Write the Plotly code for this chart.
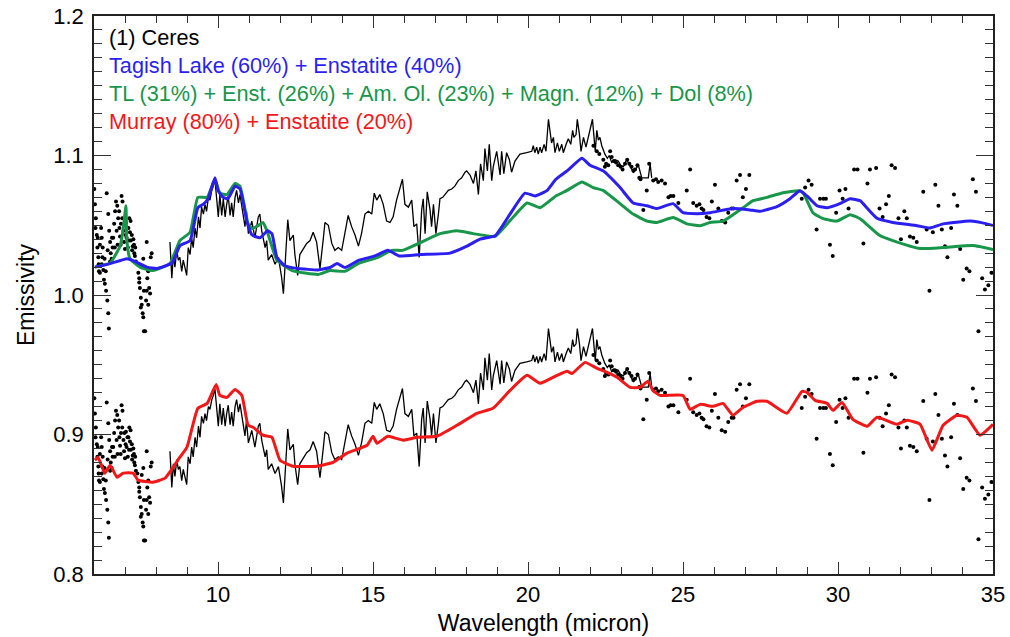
import plotly.graph_objects as go

# ---------------------------------------------------------------------------
# Ceres mid-IR emissivity spectrum (continuous part, 8.5-24 micron)
# ---------------------------------------------------------------------------
ceres_wl = [
    8.45, 8.51, 8.56, 8.61, 8.67, 8.72, 8.77, 8.83, 8.88, 8.94, 8.99, 9.04, 9.10,
    9.15, 9.20, 9.26, 9.31, 9.37, 9.42, 9.47, 9.53, 9.58, 9.63, 9.69, 9.74, 9.80,
    9.85, 9.90, 9.96, 10.01, 10.06, 10.12, 10.17, 10.23, 10.28, 10.33, 10.39, 10.44,
    10.49, 10.55, 10.60, 10.66, 10.71, 10.76, 10.82, 10.87, 10.92, 10.98,
    11.09, 11.19, 11.30, 11.35, 11.41, 11.52, 11.57, 11.62, 11.73, 11.84, 11.95,
    12.05, 12.11, 12.16, 12.25, 12.32, 12.43, 12.48, 12.57, 12.64, 12.75, 12.86,
    12.97, 13.07, 13.18, 13.29, 13.40, 13.45, 13.56, 13.67, 13.77, 13.88, 13.99,
    14.10, 14.20, 14.31, 14.42, 14.53, 14.63, 14.74, 14.85, 14.96, 15.04, 15.12,
    15.22, 15.33, 15.44, 15.55, 15.65, 15.76, 15.87, 15.95,
    16.03, 16.14, 16.25, 16.32, 16.41, 16.49, 16.57, 16.62, 16.68, 16.75, 16.84,
    16.89, 16.95, 17.03, 17.11, 17.16, 17.25, 17.32, 17.43, 17.54, 17.64, 17.75,
    17.86, 17.97, 18.02, 18.13, 18.24, 18.32, 18.40, 18.47, 18.56, 18.61, 18.69,
    18.75, 18.83, 18.88, 18.99, 19.10, 19.15, 19.22, 19.31, 19.40, 19.47, 19.58,
    19.74, 19.96, 20.12, 20.17, 20.22, 20.28, 20.33, 20.39, 20.44, 20.52, 20.58,
    20.66, 20.71,
    20.76, 20.82, 20.87, 20.95, 21.01, 21.09, 21.14, 21.23, 21.30, 21.38, 21.44,
    21.48, 21.55, 21.59, 21.66, 21.71, 21.79, 21.87, 21.95, 22.02, 22.08, 22.13,
    22.17, 22.22, 22.27, 22.32, 22.38, 22.48, 22.56, 22.62, 22.70, 22.81, 22.91,
    22.99, 23.08, 23.18, 23.29, 23.40, 23.56, 23.67, 23.77, 23.88, 23.94, 23.99,
]
ceres_em = [
    1.038, 1.012, 1.029, 1.020, 1.032, 1.025, 1.027, 1.017, 1.025, 1.020, 1.014, 1.034, 1.029,
    1.041, 1.034, 1.048, 1.041, 1.056, 1.048, 1.063, 1.058, 1.065, 1.060, 1.070, 1.068, 1.075,
    1.078, 1.083, 1.065, 1.056, 1.072, 1.057, 1.069, 1.056, 1.065, 1.071, 1.057, 1.066,
    1.056, 1.070, 1.075, 1.066, 1.072, 1.064, 1.056, 1.049, 1.060, 1.044,
    1.053, 1.041, 1.056, 1.058, 1.046, 1.034, 1.039, 1.025, 1.029, 1.022, 1.027,
    1.013, 1.001, 1.018, 1.054, 1.039, 1.043, 1.029, 1.014, 1.029, 1.033, 1.037,
    1.039, 1.045, 1.038, 1.019, 1.041, 1.052, 1.050, 1.037, 1.032, 1.034, 1.032,
    1.044, 1.057, 1.049, 1.043, 1.035, 1.044, 1.058, 1.060, 1.058, 1.073, 1.068,
    1.072, 1.065, 1.053, 1.052, 1.056, 1.068, 1.077, 1.083,
    1.065, 1.063, 1.068, 1.049, 1.051, 1.027, 1.061, 1.069, 1.044, 1.074, 1.061,
    1.049, 1.065, 1.044, 1.058, 1.069, 1.070, 1.072, 1.075, 1.076, 1.078, 1.082,
    1.084, 1.088, 1.089, 1.086, 1.080, 1.089, 1.072, 1.094, 1.082, 1.105, 1.089,
    1.108, 1.082, 1.092, 1.103, 1.086, 1.103, 1.087, 1.102, 1.097, 1.088, 1.096,
    1.101, 1.102, 1.103, 1.107, 1.102, 1.106, 1.101, 1.106, 1.102, 1.108, 1.103,
    1.126, 1.117,
    1.109, 1.113, 1.102, 1.109, 1.103, 1.108, 1.102, 1.108, 1.112, 1.108, 1.118,
    1.113, 1.115, 1.126, 1.115, 1.103, 1.113, 1.106, 1.114, 1.120, 1.126, 1.113,
    1.103, 1.118, 1.111, 1.113, 1.107, 1.101, 1.098, 1.100, 1.095, 1.097, 1.096,
    1.093, 1.092, 1.097, 1.093, 1.088, 1.093, 1.084, 1.084, 1.084, 1.094, 1.084,
]

# Ceres sparse / noisy samples (short- and long-wavelength ends)
ceres_pts_wl = [
    6.01, 6.03, 6.06, 6.09, 6.11, 6.14, 6.16, 6.19, 6.23, 6.25, 6.27, 6.30, 6.32, 6.35,
    6.39, 6.43, 6.46, 6.48, 6.41, 6.46, 6.49, 6.52, 6.54, 6.57, 6.60, 6.62, 6.65, 6.68,
    6.71, 6.75, 6.78, 6.82, 6.84, 6.86, 6.89, 6.91, 6.95, 6.97, 7.00, 7.03, 7.05, 7.09,
    7.11, 7.14, 7.16, 7.19, 7.23, 7.25, 7.27, 7.30, 7.32, 7.35,
    6.05, 6.12, 6.15, 6.19, 6.25, 6.28, 6.34, 6.38, 6.44, 6.52, 6.58, 6.67, 6.73, 6.76,
    6.81, 6.87, 6.92, 6.98, 7.02, 7.08, 7.13, 7.18, 7.22, 7.29, 7.33,
    7.40, 7.43, 7.46, 7.48, 7.51, 7.54, 7.57, 7.59, 7.61, 7.65, 7.68, 7.70, 7.72, 7.75,
    7.78, 7.81, 7.83, 7.86, 7.70, 7.59, 7.54, 7.46, 7.51, 7.61, 7.75,
    22.11, 22.22, 22.30, 22.43, 22.52, 22.48, 22.59, 22.65, 22.70, 22.77, 22.84, 22.91,
    22.99, 23.05, 23.13, 23.20, 23.27, 23.34, 23.40, 23.45, 23.53, 23.59, 23.63, 23.72,
    23.83, 23.91, 24.04, 24.13, 24.20, 24.31, 24.42, 24.53, 24.60, 24.69, 24.85, 25.12,
    25.23, 25.33, 25.44, 25.53, 25.60, 25.66, 25.76, 25.85,
    25.93, 26.03, 26.14, 26.25, 26.36, 26.46, 26.57, 26.63, 26.73, 26.84, 26.93, 27.03,
    27.14, 28.83, 28.94, 29.05, 29.15, 29.31, 29.42, 29.53, 29.61, 29.74, 29.83, 29.94,
    30.05, 30.15, 30.24, 30.34, 30.52, 30.63, 30.82, 30.95, 31.03, 31.23, 31.34, 31.44,
    31.55, 31.64, 31.73, 31.84, 31.95, 32.03, 32.14, 32.22, 32.32, 32.43, 32.54, 32.75,
    32.86, 32.95, 33.06, 33.14, 33.24, 33.35, 33.45, 33.53, 33.65, 33.74, 33.85, 33.94,
    34.04, 34.15, 34.24, 34.35, 34.45, 34.65, 34.74, 34.85, 34.95,
]
ceres_pts_em = [
    1.076, 1.065, 1.055, 1.043, 1.034, 1.027, 1.017, 1.036, 1.048, 1.041, 1.027, 1.018, 1.011, 1.008,
    1.003, 0.996, 0.987, 0.976, 1.073, 1.058, 1.046, 1.038, 1.030, 1.026, 1.034, 1.041, 1.051, 1.060,
    1.067, 1.064, 1.055, 1.048, 1.042, 1.036, 1.071, 1.055, 1.046, 1.038, 1.033, 1.052, 1.041, 1.034,
    1.048, 1.055, 1.045, 1.039, 1.032, 1.035, 1.040, 1.030, 1.028, 1.024,
    1.048, 1.041, 1.022, 1.016, 1.022, 1.034, 1.026, 1.017, 1.032, 1.024, 1.041, 1.034, 1.046, 1.036,
    1.060, 1.051, 1.067, 1.051, 1.043, 1.048, 1.039, 1.053, 1.043, 1.036, 1.034,
    1.022, 1.016, 1.012, 1.005, 0.998, 0.993, 0.987, 0.984, 0.974, 0.974, 0.996, 1.003, 1.012, 1.017,
    1.005, 1.001, 1.027, 1.030, 1.038, 1.026, 1.021, 1.009, 0.991, 1.003, 0.993,
    1.107, 1.103, 1.101, 1.097, 1.094, 1.092, 1.093, 1.103, 1.099, 1.096, 1.095, 1.093,
    1.092, 1.090, 1.094, 1.097, 1.094, 1.092, 1.089, 1.090, 1.093, 1.084, 1.083, 1.061,
    1.075, 1.094, 1.082, 1.083, 1.081, 1.082, 1.080, 1.070, 1.071, 1.071, 1.066, 1.075,
    1.090, 1.066, 1.064, 1.065, 1.062, 1.061, 1.056, 1.055,
    1.067, 1.079, 1.062, 1.053, 1.052, 1.059, 1.062, 1.062, 1.082, 1.086, 1.070, 1.076,
    1.086, 1.069, 1.077, 1.082, 1.079, 1.047, 1.069, 1.069, 1.069, 1.036, 1.028, 1.059,
    1.075, 1.069, 1.076, 1.062, 1.090, 1.090, 1.037, 1.080, 1.090, 1.091, 1.062, 1.056,
    1.065, 1.071, 1.093, 1.091, 1.055, 1.040, 1.060, 1.055, 1.042, 1.041, 1.038, 1.074,
    1.047, 1.003, 1.045, 1.079, 1.064, 1.047, 1.035, 1.027, 1.048, 1.072, 1.064, 1.033,
    1.011, 1.019, 1.017, 1.083, 1.074, 1.012, 1.004, 1.007, 1.016,
]

# The lower copy of the Ceres spectrum is shifted down by this amount
ceres_shift = 0.15
# two extra samples only present in the shifted copy
lower_extra_wl = [34.53, 34.53]
lower_extra_em = [0.974, 0.825]

# ---------------------------------------------------------------------------
# Model mixtures
# ---------------------------------------------------------------------------
tagish_wl = [
    6.03, 6.52, 7.06, 7.26, 7.71, 8.03, 8.52, 8.77, 9.10, 9.35, 9.52, 9.68, 9.90, 10.00,
    10.16, 10.32, 10.55, 10.71, 10.94, 11.10, 11.35, 11.60, 11.74, 11.90, 12.16, 12.58,
    13.23, 13.61, 13.84, 14.10, 14.52, 15.06, 15.48, 15.84, 16.52, 17.48, 18.03, 18.45,
    18.94, 19.42, 19.90, 20.23, 20.61, 20.90, 21.26, 21.74, 22.00, 22.42, 22.97, 23.39,
    23.84, 24.16, 24.68, 25.00, 25.45, 25.87, 26.60, 27.16, 27.48, 28.03, 28.45, 28.77,
    29.00, 29.32, 29.65, 30.06, 30.39, 30.71, 30.81, 31.26, 31.77, 32.55, 32.97, 33.39,
    34.26, 34.80, 35.00,
]
tagish_em = [
    1.020, 1.0225, 1.026, 1.0247, 1.020, 1.019, 1.023, 1.0354, 1.039, 1.0626, 1.065, 1.069,
    1.084, 1.075, 1.070, 1.069, 1.078, 1.076, 1.052, 1.043, 1.041, 1.046, 1.044, 1.027,
    1.021, 1.019, 1.018, 1.0197, 1.0225, 1.0197, 1.0247, 1.028, 1.032, 1.028, 1.029, 1.030,
    1.035, 1.040, 1.0425, 1.058, 1.073, 1.071, 1.0748, 1.083, 1.089, 1.098, 1.093, 1.089,
    1.077, 1.066, 1.064, 1.062, 1.0655, 1.059, 1.0583, 1.059, 1.062, 1.061, 1.060, 1.0633,
    1.069, 1.0748, 1.071, 1.064, 1.0626, 1.0655, 1.069, 1.0676, 1.0655, 1.055, 1.052,
    1.0497, 1.048, 1.051, 1.053, 1.051, 1.0497,
]

mix5_wl = [
    6.03, 6.52, 6.84, 6.94, 7.03, 7.06, 7.16, 7.48, 7.90, 8.45, 8.77, 9.10, 9.35, 9.65,
    9.90, 10.06, 10.29, 10.55, 10.71, 10.97, 11.10, 11.29, 11.45, 11.58, 11.90, 12.39,
    13.23, 13.61, 14.10, 14.52, 15.16, 15.61, 15.95, 16.52, 17.16, 17.71, 18.23, 18.94,
    19.42, 19.97, 20.39, 20.90, 21.26, 21.74, 22.10, 22.42, 22.97, 23.39, 23.84, 24.16,
    24.68, 25.13, 25.55, 25.87, 26.29, 26.94, 27.26, 27.71, 28.23, 28.71, 28.87, 29.19,
    29.52, 29.97, 30.39, 30.71, 30.81, 31.35, 31.77, 32.65, 33.39, 34.35, 35.00,
]
mix5_em = [
    1.020, 1.023, 1.035, 1.047, 1.064, 1.039, 1.026, 1.020, 1.0175, 1.0225, 1.039, 1.045,
    1.070, 1.070, 1.083, 1.073, 1.072, 1.080, 1.078, 1.051, 1.0476, 1.0497, 1.052, 1.046,
    1.025, 1.0175, 1.0147, 1.0175, 1.017, 1.0225, 1.027, 1.032, 1.032, 1.0375, 1.044,
    1.046, 1.044, 1.042, 1.0533, 1.066, 1.0626, 1.071, 1.075, 1.081, 1.077, 1.075,
    1.0655, 1.058, 1.053, 1.052, 1.0555, 1.051, 1.0497, 1.052, 1.053, 1.0626, 1.0676,
    1.070, 1.0733, 1.0748, 1.0733, 1.059, 1.0547, 1.053, 1.0576, 1.0547, 1.053, 1.0426,
    1.039, 1.0333, 1.034, 1.0354, 1.0326,
]

murray_wl = [
    6.03, 6.13, 6.35, 6.52, 6.74, 6.94, 7.26, 7.42, 7.90, 8.29, 8.77, 9.00, 9.35, 9.65,
    9.94, 10.06, 10.29, 10.55, 10.77, 10.97, 11.13, 11.45, 11.74, 12.00, 12.42, 13.19,
    13.71, 14.16, 14.81, 15.00, 15.13, 15.48, 15.97, 16.42, 17.06, 17.71, 18.35, 18.87,
    19.42, 19.97, 20.39, 20.94, 21.26, 21.42, 21.84, 22.23, 22.55, 22.87, 23.29, 23.61,
    23.87, 24.03, 24.26, 25.00, 25.23, 25.55, 25.97, 26.29, 26.61, 26.94, 27.39, 27.71,
    28.35, 28.84, 29.00, 29.26, 29.65, 29.84, 30.13, 30.48, 30.94, 31.26, 31.90, 32.23,
    32.65, 33.03, 33.39, 33.84, 34.16, 34.58, 35.00,
]
murray_em = [
    0.8816, 0.8837, 0.8723, 0.878, 0.8694, 0.8723, 0.8723, 0.8673, 0.8658, 0.8687, 0.8837,
    0.891, 0.9188, 0.9223, 0.9359, 0.928, 0.9266, 0.9323, 0.928, 0.9066, 0.9052, 0.8995,
    0.898, 0.8816, 0.8773, 0.8773, 0.880, 0.8866, 0.8923, 0.8987, 0.8937, 0.8987, 0.8959,
    0.898, 0.8987, 0.9066, 0.9152, 0.9188, 0.9316, 0.9424, 0.9367, 0.9424, 0.9453, 0.9438,
    0.9517, 0.9474, 0.9445, 0.941, 0.9338, 0.9338, 0.9381, 0.9316, 0.928, 0.928, 0.918,
    0.9216, 0.9202, 0.9223, 0.9138, 0.9195, 0.9238, 0.9238, 0.9152, 0.9309, 0.9302,
    0.9245, 0.9223, 0.9173, 0.923, 0.9109, 0.9059, 0.9123, 0.9073, 0.9102, 0.9073, 0.8887,
    0.9066, 0.9138, 0.9123, 0.8995, 0.9073,
]

labels = [
    ("(1) Ceres", "#000000"),
    ("Tagish Lake (60%) + Enstatite (40%)", "#2a1ff0"),
    ("TL (31%) + Enst. (26%) + Am. Ol. (23%) + Magn. (12%) + Dol (8%)", "#18964a"),
    ("Murray (80%) + Enstatite (20%)", "#f21818"),
]

FONT = "Liberation Sans, Arial, Helvetica, sans-serif"

fig = go.Figure()

lower_pts_wl = ceres_pts_wl + lower_extra_wl
lower_pts_em = [v - ceres_shift for v in ceres_pts_em] + lower_extra_em
lower_line_em = [v - ceres_shift for v in ceres_em]

for xs, ys in ((ceres_pts_wl, ceres_pts_em), (lower_pts_wl, lower_pts_em)):
    fig.add_trace(go.Scatter(x=xs, y=ys, mode="markers",
                             marker=dict(color="black", size=4, line=dict(width=0)),
                             hoverinfo="skip"))
for ys in (ceres_em, lower_line_em):
    fig.add_trace(go.Scatter(x=ceres_wl, y=ys, mode="lines",
                             line=dict(color="black", width=1.3), hoverinfo="skip"))

fig.add_trace(go.Scatter(x=mix5_wl, y=mix5_em, mode="lines",
                         line=dict(color=labels[2][1], width=3, shape="spline", smoothing=0.4)))
fig.add_trace(go.Scatter(x=tagish_wl, y=tagish_em, mode="lines",
                         line=dict(color=labels[1][1], width=3, shape="spline", smoothing=0.4)))
fig.add_trace(go.Scatter(x=murray_wl, y=murray_em, mode="lines",
                         line=dict(color=labels[3][1], width=3, shape="spline", smoothing=0.4)))

label_y = [0.9606, 0.9104, 0.862, 0.8118]
for (txt, col), yy in zip(labels, label_y):
    fig.add_annotation(text=txt, x=0.0145, y=yy, xref="paper", yref="paper",
                       xanchor="left", yanchor="middle", showarrow=False,
                       font=dict(family=FONT, size=21.7, color=col))

axis_common = dict(
    showline=True, linecolor="#222222", linewidth=1.6, mirror="allticks",
    ticks="inside", tickcolor="#333333", tickwidth=1.4,
    showgrid=False, zeroline=False, automargin=False,
    tickfont=dict(family=FONT, size=22, color="black"),
)

fig.update_layout(
    width=1010, height=637,
    margin=dict(l=94, r=17, t=16, b=63),
    paper_bgcolor="white", plot_bgcolor="white",
    showlegend=False,
    font=dict(family=FONT, color="black"),
    xaxis=dict(
        range=[6, 35], tick0=0, dtick=5, ticklen=12,
        minor=dict(dtick=1, tick0=0, ticklen=7, ticks="inside",
                   tickcolor="#333333", tickwidth=1.2, showgrid=False),
        title=dict(text="Wavelength (micron)", font=dict(family=FONT, size=23), standoff=9),
        **axis_common,
    ),
    yaxis=dict(
        range=[0.8, 1.2], tick0=0.8, dtick=0.1, tickformat=".1f", ticklen=17,
        minor=dict(dtick=0.01, tick0=0.8, ticklen=8, ticks="inside",
                   tickcolor="#333333", tickwidth=1.2, showgrid=False),
        ticklabelstandoff=4,
        title=dict(text="Emissivity", font=dict(family=FONT, size=23), standoff=12),
        **axis_common,
    ),
)

fig.write_html("out.html")
